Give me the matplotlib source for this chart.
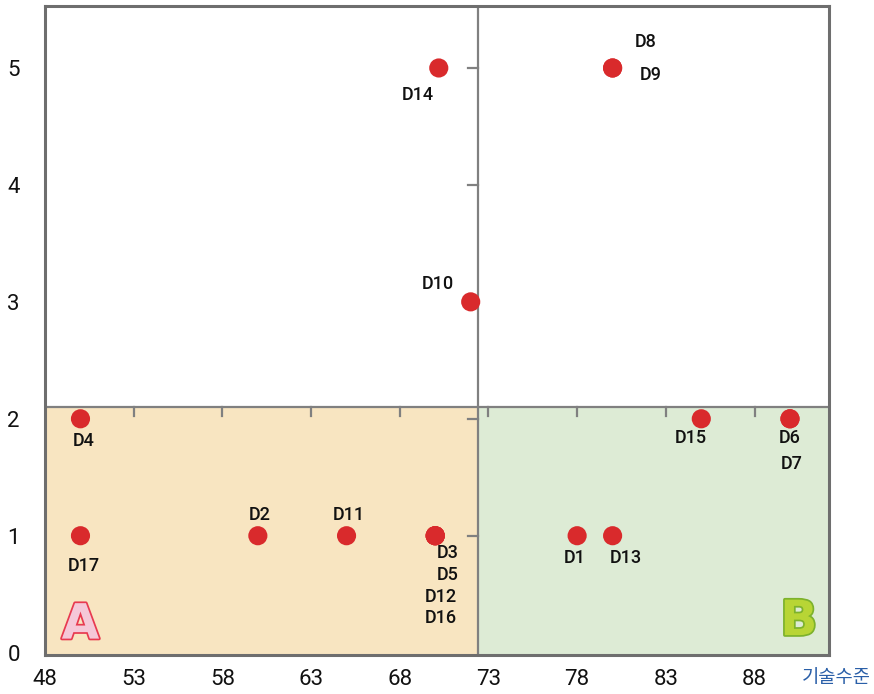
import matplotlib
matplotlib.use("Agg")
import matplotlib.pyplot as plt
import matplotlib.patheffects as pe
from matplotlib.patches import Rectangle

# Data: project position (기술수준 on x, score on y)
names = ["D1", "D2", "D3", "D4", "D5", "D6", "D7", "D8", "D9",
         "D10", "D11", "D12", "D13", "D14", "D15", "D16", "D17"]
tech = [78, 60, 70, 50, 70, 90, 90, 80, 80, 72, 65, 70, 80, 70.2, 85, 70, 50]
score = [1, 1, 1, 2, 1, 2, 2, 5, 5, 3, 1, 1, 1, 5, 2, 1, 1]

x_ticks = [48, 53, 58, 63, 68, 73, 78, 83, 88]
y_ticks = [0, 1, 2, 3, 4, 5]
x_split = 72.4
y_split = 2.1

# Label offsets from each point, in pixels
label_offset = {
    "D1": (-2, -22), "D2": (2, 21), "D3": (12, -17),
    "D4": (3, -22), "D5": (12, -39), "D6": (0, -19),
    "D7": (2, -45), "D8": (33, 26), "D9": (38, -7),
    "D10": (-33, 18), "D11": (2, 21), "D12": (6, -61),
    "D13": (13, -22), "D14": (-21, -27), "D15": (-10, -19),
    "D16": (6, -82), "D17": (3, -30),
}

x_lo, x_hi = 48, 92.2
y_lo, y_hi = -0.02, 5.53

fig = plt.figure(figsize=(8.74, 6.94), dpi=100)
ax = fig.add_axes([45 / 874, 1 - 655 / 694, (829 - 45) / 874, (655 - 6) / 694])
ax.set_xlim(x_lo, x_hi)
ax.set_ylim(y_lo, y_hi)

# Quadrant shading
ax.add_patch(Rectangle((x_lo, y_lo), x_split - x_lo, y_split - y_lo,
                       facecolor="#F8E5C1", edgecolor="none", zorder=0))
ax.add_patch(Rectangle((x_split, y_lo), x_hi - x_split, y_split - y_lo,
                       facecolor="#DDEBD5", edgecolor="none", zorder=0))

line_col = "#808080"
ax.axvline(x_split, color=line_col, lw=1.6, zorder=1)
ax.axhline(y_split, color=line_col, lw=1.6, zorder=1)

# Small ticks on the split lines
for xv in x_ticks[1:]:
    ax.plot([xv, xv], [y_split, y_split - 0.08], color=line_col, lw=1.6, zorder=1)
for yv in y_ticks[1:]:
    ax.plot([x_split - 0.55, x_split], [yv, yv], color=line_col, lw=1.6, zorder=1)

for s in ax.spines.values():
    s.set_color("#6E6E6E")
    s.set_linewidth(2.2)

ax.set_xticks(x_ticks)
ax.set_yticks(y_ticks)
ax.tick_params(length=0, labelsize=16, colors="#111111")
ax.tick_params(axis="x", pad=10)
ax.tick_params(axis="y", pad=18)
for lbl in ax.get_xticklabels() + ax.get_yticklabels():
    lbl.set_fontfamily("Roboto")
    lbl.set_fontweight("normal")

ax.scatter(tech, score, s=190, color="#D92A2C", edgecolors="none", zorder=3, clip_on=False)

for n, xv, yv in zip(names, tech, score):
    dx, dy = label_offset[n]
    ax.annotate(n, (xv, yv), xytext=(dx, dy), textcoords="offset pixels",
                ha="center", va="center", fontsize=13, fontweight="medium",
                fontfamily="Roboto", color="#111111", zorder=4)

# Quadrant markers
ax.text(50, 0.24, "A", fontsize=35, fontweight="heavy", fontfamily="DejaVu Sans",
        ha="center", va="center", color="#F5C8D8", zorder=2,
        path_effects=[pe.withStroke(linewidth=2.5, foreground="#E83A50")])
ax.text(90.5, 0.27, "B", fontsize=35, fontweight="heavy", fontfamily="DejaVu Sans",
        ha="center", va="center", color="#B8D535", zorder=2,
        path_effects=[pe.withStroke(linewidth=2.5, foreground="#7DB22C")])

fig.text(836 / 874, 1 - 678 / 694, "기술수준", fontsize=13.5,
         fontfamily=["Noto Sans CJK KR", "DejaVu Sans"], color="#2A5FA8",
         ha="center", va="center")

fig.savefig("out.png", dpi=100)
